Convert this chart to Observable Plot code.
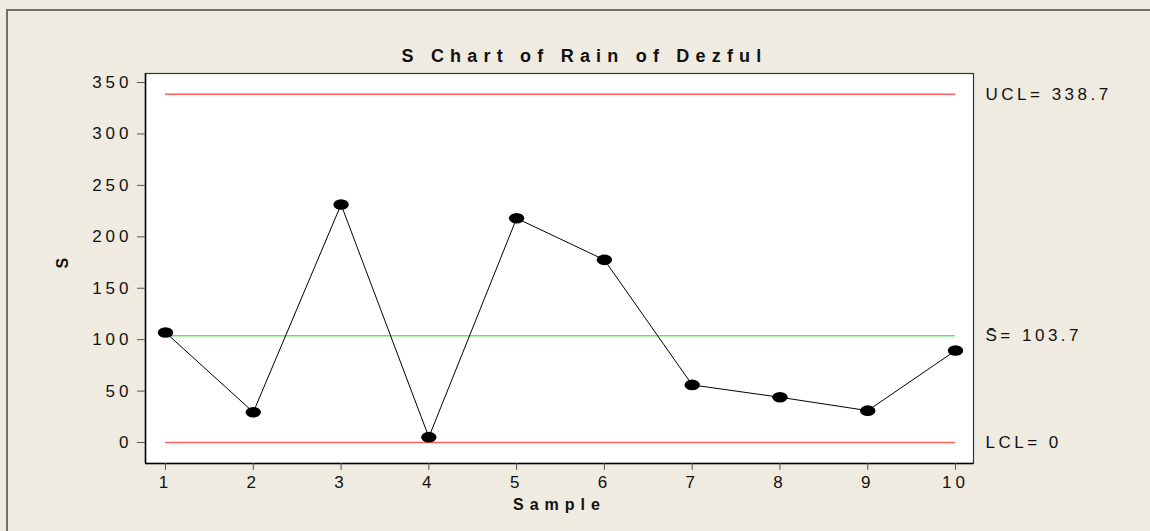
<!DOCTYPE html>
<html>
<head>
<meta charset="utf-8">
<script src="https://cdn.jsdelivr.net/npm/d3@7"></script>
<script src="https://cdn.jsdelivr.net/npm/@observablehq/plot@0.6"></script>
<style>
  html, body { margin: 0; padding: 0; background: #efebe1; overflow: hidden; }
  #wrap { position: relative; width: 1150px; height: 531px; }
  #border { position: absolute; left: 6px; top: 9px; width: 1200px; height: 600px;
            border-top: 2px solid #6f6f6f; border-left: 2px solid #6f6f6f; }
  #chart { position: absolute; left: 0; top: 0; }
  svg text { font-family: "Liberation Sans", Arial, sans-serif; }
</style>
</head>
<body>
<div id="wrap"><div id="border"></div><div id="chart"></div></div>
<script>
// ---- data ----
const samples = [1, 2, 3, 4, 5, 6, 7, 8, 9, 10];
const sValues = [107, 29.5, 231.4, 5.2, 218, 177.6, 56, 44, 31, 89.4];
const ucl = 338.7;
const sBar = 103.7;
const lcl = 0;
const yTicks = [0, 50, 100, 150, 200, 250, 300, 350];
const xTicks = [1, 2, 3, 4, 5, 6, 7, 8, 9, 10];
const titleText = "S Chart of Rain of Dezful";
const xLabel = "Sample";
const yLabel = "S";

const points = samples.map((s, i) => ({sample: s, s: sValues[i]}));
const limits = [
  {y: ucl, label: `UCL= ${ucl}`},
  {y: sBar, label: `S\u0304= ${sBar}`},
  {y: lcl, label: `LCL= ${lcl}`}
];

const red = "#ff5f5f";
const green = "#5fe85f";

// render hook that applies letter spacing to a mark's text
const spaced = (ls) => (index, scales, values, dims, ctx, next) => {
  const g = next(index, scales, values, dims, ctx);
  g.style.letterSpacing = ls + "px";
  return g;
};

const chart = Plot.plot({
  width: 1150,
  height: 531,
  marginLeft: 145,
  marginRight: 177,
  marginTop: 73,
  marginBottom: 68,
  style: {background: "transparent", color: "#111"},
  x: {domain: [0.772, 10.205], ticks: xTicks},
  y: {domain: [-20.4, 358.8], ticks: yTicks},
  marks: [
    Plot.frame({fill: "white", stroke: "none"}),
    Plot.ruleY([ucl], {x1: samples[0], x2: samples[samples.length - 1], stroke: red, strokeWidth: 1.5}),
    Plot.ruleY([lcl], {x1: samples[0], x2: samples[samples.length - 1], stroke: red, strokeWidth: 1.5}),
    Plot.ruleY([sBar], {x1: samples[0], x2: samples[samples.length - 1], stroke: green, strokeWidth: 1.5}),
    Plot.line(points, {x: "sample", y: "s", stroke: "black", strokeWidth: 1}),
    Plot.dot(points, {
      x: "sample", y: "s", r: 5.3, fill: "black", stroke: "none",
      render: (index, scales, values, dims, ctx, next) => {
        const g = next(index, scales, values, dims, ctx);
        g.querySelectorAll("circle").forEach(c => {
          const cx = +c.getAttribute("cx"), cy = +c.getAttribute("cy");
          c.setAttribute("transform", `translate(${cx},${cy}) scale(1.45,1) translate(${-cx},${-cy})`);
        });
        return g;
      }
    }),
    Plot.frame({stroke: "#333", strokeWidth: 1.2}),
    Plot.ruleX([0.772], {stroke: "#000", strokeWidth: 1.5}),
    Plot.ruleY([-20.4], {stroke: "#000", strokeWidth: 1.5}),
    Plot.axisY({ticks: yTicks, tickSize: 8, tickPadding: 5, label: null, fontSize: 17, stroke: "#555", render: spaced(4)}),
    Plot.axisX({ticks: xTicks, tickSize: 7, tickPadding: 5, label: null, fontSize: 17, stroke: "#555", render: spaced(4)}),
    Plot.text(limits, {y: "y", text: "label", frameAnchor: "right", dx: 12, textAnchor: "start", fontSize: 17, fill: "#111", render: spaced(3.5)}),
    Plot.text([titleText], {frameAnchor: "top", dx: 25, dy: -24, fontSize: 18, fontWeight: "bold", fill: "#111", render: spaced(6.2)}),
    Plot.text([xLabel], {frameAnchor: "bottom", dy: 46, dx: 0, fontSize: 16, fontWeight: "bold", fill: "#111", render: spaced(6)}),
    Plot.text([yLabel], {frameAnchor: "left", dx: -83, rotate: -90, fontSize: 16, fontWeight: "bold", fill: "#111"})
  ]
});
document.getElementById("chart").appendChild(chart);
</script>
</body>
</html>
